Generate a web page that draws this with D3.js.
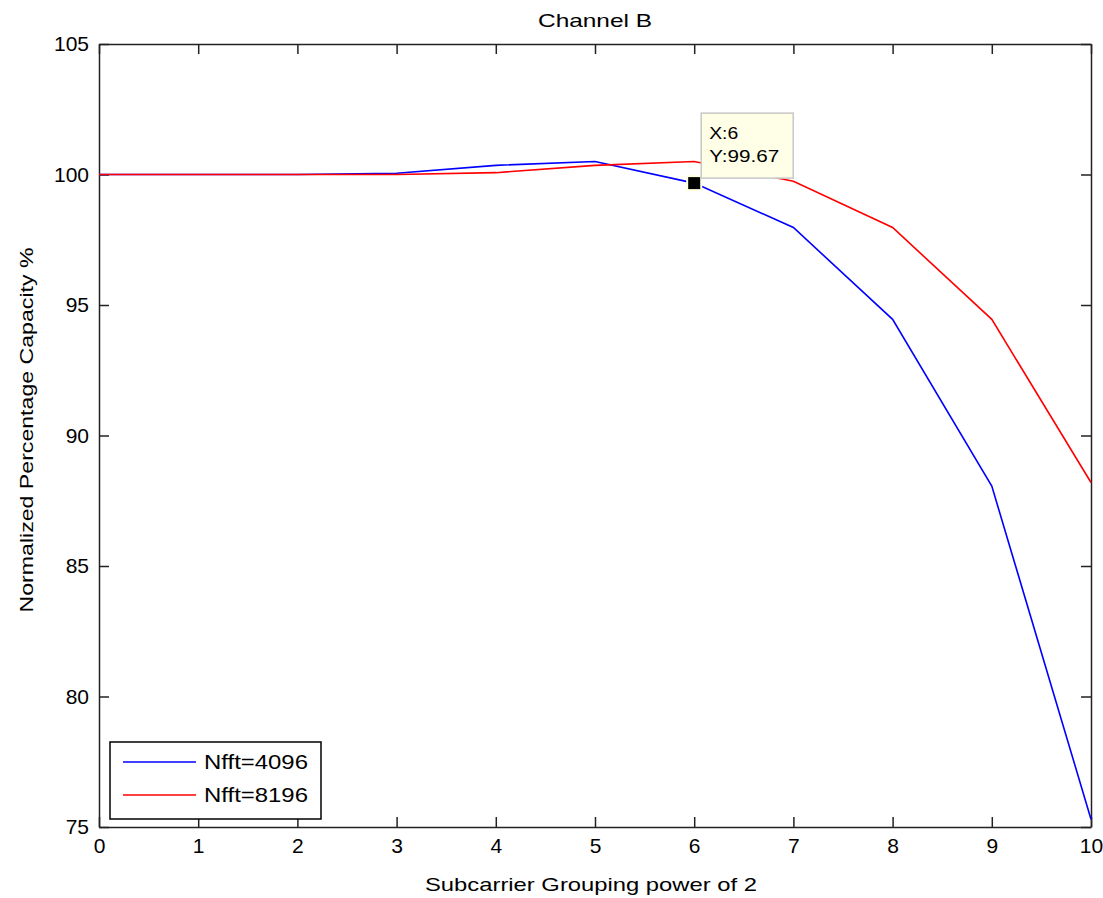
<!DOCTYPE html>
<html>
<head>
<meta charset="utf-8">
<script src="https://cdn.jsdelivr.net/npm/d3@7"></script>
<style>
  body { margin: 0; background: #fff; }
  text { font-family: "Liberation Sans", Arial, sans-serif; fill: #000; }
</style>
</head>
<body>
<div id="chart-area"></div>
<script>
// values
var powers = [0, 1, 2, 3, 4, 5, 6, 7, 8, 9, 10];
var nfft4096 = [100, 100, 100, 100.05, 100.35, 100.5, 99.67, 97.97, 94.45, 88.06, 75.3];
var nfft8196 = [100, 100, 100, 100, 100.07, 100.35, 100.5, 99.74, 97.97, 94.45, 88.2];
var xTicks = [0, 1, 2, 3, 4, 5, 6, 7, 8, 9, 10];
var yTicks = [75, 80, 85, 90, 95, 100, 105];
var seriesNames = ["Nfft=4096", "Nfft=8196"];
var seriesColors = ["#0000ff", "#ff0000"];
var tipPoint = { x: 6, y: 99.67 };

var width = 1103, height = 898;
var plotLeft = 99, plotRight = 1091, plotTop = 44, plotBottom = 827;

var svg = d3.select("#chart-area").append("svg")
    .attr("width", width)
    .attr("height", height);

var x = d3.scaleLinear().domain([0, 10]).range([plotLeft, plotRight]);
var y = d3.scaleLinear().domain([75, 105]).range([plotBottom, plotTop]);

// axes, ticks pointing inward like matlab
svg.append("g")
    .attr("transform", "translate(0," + plotBottom + ")")
    .call(d3.axisBottom(x).tickValues(xTicks).tickSize(-10).tickSizeOuter(0).tickPadding(11));
svg.append("g")
    .attr("transform", "translate(0," + plotTop + ")")
    .call(d3.axisTop(x).tickValues(xTicks).tickSize(-10).tickSizeOuter(0).tickFormat(""));
svg.append("g")
    .attr("transform", "translate(" + plotLeft + ",0)")
    .call(d3.axisLeft(y).tickValues(yTicks).tickSize(-10).tickSizeOuter(0).tickPadding(10));
svg.append("g")
    .attr("transform", "translate(" + plotRight + ",0)")
    .call(d3.axisRight(y).tickValues(yTicks).tickSize(-10).tickSizeOuter(0).tickFormat(""));

svg.selectAll(".domain, .tick line").attr("stroke", "#222").attr("stroke-width", 1.5);
svg.selectAll(".tick text").style("font-size", "21px").style("font-family", "Liberation Sans, Arial, sans-serif");

// lines
var line = d3.line()
    .x(function(d, i) { return x(powers[i]); })
    .y(function(d) { return y(d); });

[nfft4096, nfft8196].forEach(function(values, i) {
    svg.append("path")
        .datum(values)
        .attr("fill", "none")
        .attr("stroke", seriesColors[i])
        .attr("stroke-width", 1.6)
        .attr("d", line);
});

// data tip
var mx = x(tipPoint.x), my = y(tipPoint.y);
svg.append("rect")
    .attr("x", mx - 8).attr("y", my - 8)
    .attr("width", 16).attr("height", 16)
    .attr("fill", "#ffffe1");
svg.append("rect")
    .attr("x", mx - 6).attr("y", my - 6)
    .attr("width", 12).attr("height", 12)
    .attr("fill", "#000");
svg.append("rect")
    .attr("x", mx + 7).attr("y", my - 70)
    .attr("width", 92).attr("height", 65)
    .attr("fill", "#ffffe8")
    .attr("stroke", "#c8c8c8")
    .attr("stroke-width", 1.5);
svg.append("text")
    .attr("x", mx + 15).attr("y", my - 44)
    .attr("textLength", 29)
    .attr("lengthAdjust", "spacingAndGlyphs")
    .style("font-size", "16px")
    .text("X:" + tipPoint.x);
svg.append("text")
    .attr("x", mx + 15).attr("y", my - 21)
    .attr("textLength", 70)
    .attr("lengthAdjust", "spacingAndGlyphs")
    .style("font-size", "16px")
    .text("Y:" + tipPoint.y);

// legend
var legend = svg.append("g");
legend.append("rect")
    .attr("x", 110).attr("y", 742)
    .attr("width", 211).attr("height", 77)
    .attr("fill", "#fff")
    .attr("stroke", "#000")
    .attr("stroke-width", 1.5);
seriesNames.forEach(function(name, i) {
    var ly = 762 + i * 33;
    legend.append("line")
        .attr("x1", 123).attr("x2", 196)
        .attr("y1", ly).attr("y2", ly)
        .attr("stroke", seriesColors[i])
        .attr("stroke-width", 1.6);
    legend.append("text")
        .attr("x", 204).attr("y", ly)
        .attr("dy", "0.35em")
        .attr("textLength", 104)
        .attr("lengthAdjust", "spacingAndGlyphs")
        .style("font-size", "20px")
        .text(name);
});

// title and axis labels
svg.append("text")
    .attr("x", (plotLeft + plotRight) / 2).attr("y", 27)
    .attr("text-anchor", "middle")
    .attr("textLength", 114)
    .attr("lengthAdjust", "spacingAndGlyphs")
    .style("font-size", "19px")
    .text("Channel B");
svg.append("text")
    .attr("x", 591).attr("y", 891)
    .attr("text-anchor", "middle")
    .attr("textLength", 332)
    .attr("lengthAdjust", "spacingAndGlyphs")
    .style("font-size", "19px")
    .text("Subcarrier Grouping power of 2");
svg.append("text")
    .attr("transform", "translate(33,430) rotate(-90)")
    .attr("text-anchor", "middle")
    .attr("textLength", 365)
    .attr("lengthAdjust", "spacingAndGlyphs")
    .style("font-size", "19px")
    .text("Normalized Percentage Capacity %");
</script>
</body>
</html>
